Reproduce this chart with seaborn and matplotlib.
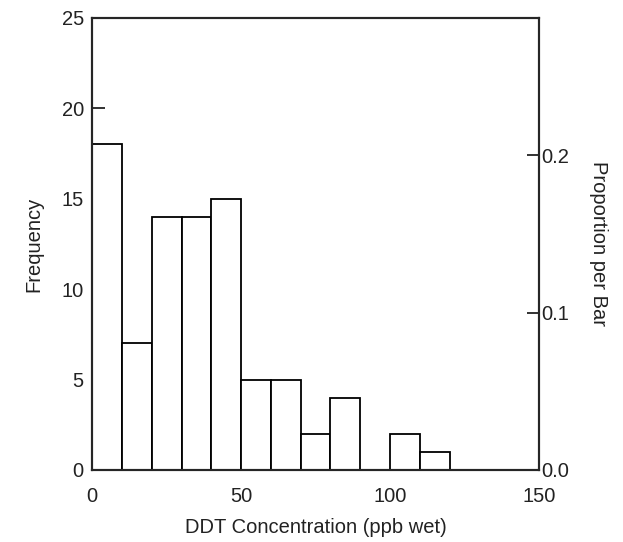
import numpy as np
import matplotlib
matplotlib.use('Agg')
import matplotlib.pyplot as plt
import seaborn as sns

# bin edges (ppb wet) and counts per bar
bin_edges = [0, 10, 20, 30, 40, 50, 60, 70, 80, 90, 100, 110, 120]
counts = [18, 7, 14, 14, 15, 5, 5, 2, 4, 0, 2, 1]
y_ticks = [0, 5, 10, 15, 20, 25]
x_ticks = [0, 50, 100, 150]
prop_ticks = [0.0, 0.1, 0.2]

mids = [(a + b) / 2 for a, b in zip(bin_edges[:-1], bin_edges[1:])]
total = sum(counts)

sns.set_style('white')
plt.rcParams['font.family'] = ['Liberation Sans', 'DejaVu Sans']

fig = plt.figure(figsize=(6.23, 5.42), dpi=100)
ax = fig.add_axes([0.148, 0.133, 0.717, 0.834])

sns.histplot(x=mids, weights=counts, bins=bin_edges, stat='count',
             color='white', edgecolor='black', linewidth=1.3, alpha=1, ax=ax)

ax.set_xlim(0, 150)
ax.set_ylim(0, 25)
ax.set_xticks(x_ticks)
ax.set_yticks(y_ticks)
ax.set_xlabel('DDT Concentration (ppb wet)', fontsize=14.5, color='#222222', labelpad=9)
ax.set_ylabel('Frequency', fontsize=14.5, color='#222222', labelpad=13)
ax.tick_params(axis='y', direction='in', length=9, width=1.3, labelsize=14.5,
               pad=6, left=True, colors='#222222')
ax.tick_params(axis='x', length=0, labelsize=14.5, pad=12, colors='#222222')
for s in ax.spines.values():
    s.set_color('black')
    s.set_linewidth(1.5)

ax2 = ax.twinx()
ax2.set_ylim(0, 25 / total)
ax2.set_yticks(prop_ticks)
ax2.set_yticklabels(['0.0', '0.1', '0.2'])
ax2.tick_params(axis='y', direction='in', length=9, width=1.3, labelsize=14.5,
                pad=2, right=True, colors='#222222')
ax2.set_ylabel('Proportion per Bar', fontsize=14.5, rotation=-90, labelpad=28,
               color='#222222')
for s in ax2.spines.values():
    s.set_linewidth(1.5)

fig.savefig('out.png', dpi=100)
